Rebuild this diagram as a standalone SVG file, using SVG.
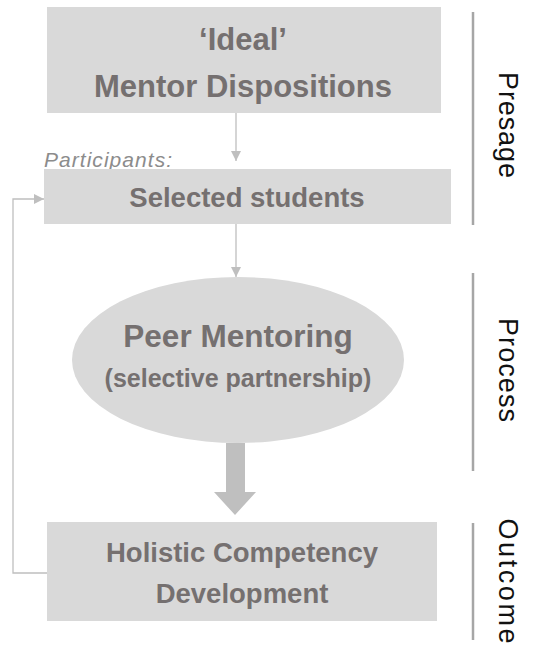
<svg xmlns="http://www.w3.org/2000/svg" width="560" height="649" viewBox="0 0 560 649">
  <style>
    .box { fill: #d9d9d9; }
    .lbl { font-family: "Liberation Sans", Arial, sans-serif; font-weight: bold; fill: #757070; text-anchor: middle; }
    .stage { font-family: "Liberation Sans", Arial, sans-serif; font-size: 27px; fill: #111; text-anchor: middle; }
    .thin { fill: none; stroke: #bfbfbf; stroke-width: 1.3; }
    .bar { stroke: #a6a6a6; stroke-width: 2.5; }
  </style>
  <defs>
    <marker id="head" viewBox="0 0 10 10" refX="10" refY="5" markerWidth="10" markerHeight="10" markerUnits="userSpaceOnUse" orient="auto">
      <path d="M0,0 L10,5 L0,10 Z" fill="#bfbfbf"/>
    </marker>
  </defs>

  <g id="connectors">
    <line class="thin" x1="236" y1="113" x2="236" y2="161" marker-end="url(#head)"/>
    <line class="thin" x1="236" y1="224" x2="236" y2="277" marker-end="url(#head)"/>
    <polyline class="thin" points="47,573 13,573 13,199 44,199" marker-end="url(#head)"/>
    <polygon points="226,443 245,443 245,492 256,492 235,515 214,492 226,492" fill="#bfbfbf"/>
  </g>

  <g id="mentor-dispositions">
    <rect class="box" x="47" y="7" width="394" height="106"/>
    <text class="lbl" x="243" y="50" font-size="31">‘Ideal’</text>
    <text class="lbl" x="243" y="97" font-size="31">Mentor Dispositions</text>
  </g>

  <g id="selected-students">
    <text x="44" y="167" font-family="Liberation Sans, Arial, sans-serif" font-style="italic" font-size="21" fill="#8c8c8c" textLength="128">Participants:</text>
    <rect class="box" x="44" y="169" width="407" height="55"/>
    <text class="lbl" x="247" y="207" font-size="27.5">Selected students</text>
  </g>

  <g id="peer-mentoring">
    <ellipse class="box" cx="238" cy="360" rx="166" ry="83"/>
    <text class="lbl" x="238" y="347" font-size="31.5">Peer Mentoring</text>
    <text class="lbl" x="238" y="387" font-size="25">(selective partnership)</text>
  </g>

  <g id="competency">
    <rect class="box" x="47" y="522" width="390" height="99"/>
    <text class="lbl" x="242" y="562" font-size="27.5">Holistic Competency</text>
    <text class="lbl" x="242" y="603" font-size="27.5">Development</text>
  </g>

  <g id="stages">
    <line class="bar" x1="473" y1="12" x2="473" y2="225"/>
    <line class="bar" x1="473" y1="273" x2="473" y2="471"/>
    <line class="bar" x1="473" y1="523" x2="473" y2="640"/>
    <text class="stage" transform="translate(499,125) rotate(90)" textLength="106">Presage</text>
    <text class="stage" transform="translate(499,370) rotate(90)" textLength="104">Process</text>
    <text class="stage" transform="translate(499,581) rotate(90)" font-size="28" textLength="125">Outcome</text>
  </g>
</svg>
